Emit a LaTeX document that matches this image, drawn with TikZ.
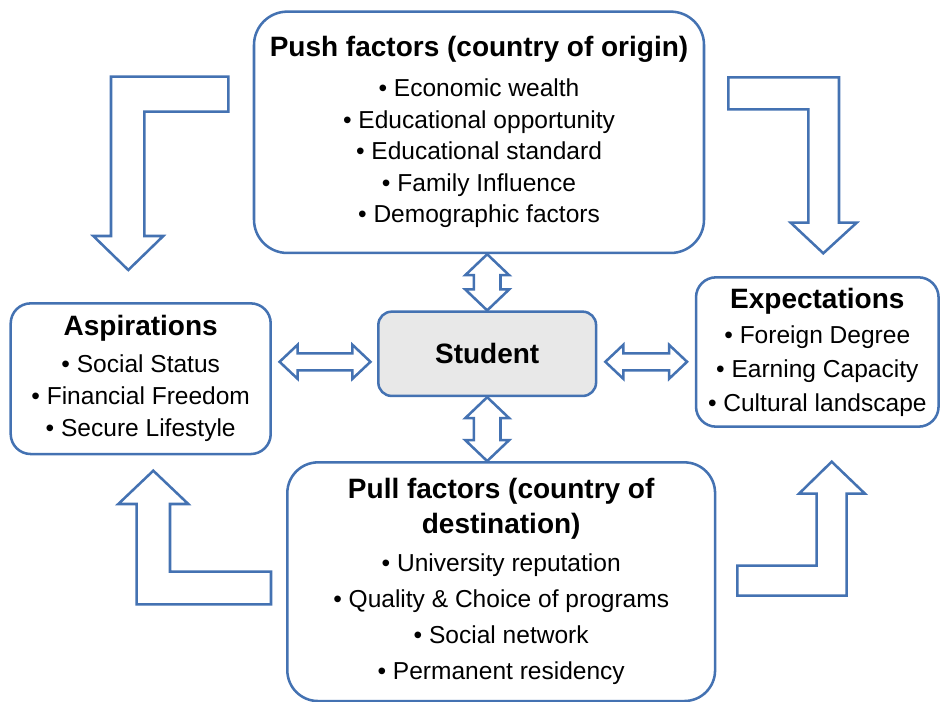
\documentclass[tikz,border=0pt]{standalone}
\usepackage{fontspec}
\setmainfont{Liberation Sans}
\usetikzlibrary{calc}

\definecolor{boxblue}{RGB}{68,114,178}
\definecolor{studgray}{RGB}{232,232,232}

\newcommand{\bodyfont}{\fontsize{18.4}{23.6}\selectfont}
\newcommand{\boxtitle}[1]{{\fontsize{21}{25}\selectfont\bfseries #1}}

% two-headed block arrow, #1 = top tip, #2 = bottom tip
\newcommand{\vdouble}[2]{%
\draw [blockarrow] (#1) -- ++(22,21) -- ++(-8.7,0) -- ($(#2)+(13.3,-21)$) -- ++(8.7,0) -- (#2) -- ++(-22,-21) -- ++(8.7,0) -- ($(#1)+(-13.3,21)$) -- ++(-8.7,0) -- cycle ;}
% two-headed block arrow, #1 = left tip, #2 = right tip
\newcommand{\hdouble}[2]{%
\draw [blockarrow] (#1) -- ++(18,-17) -- ++(0,8.5) -- ($(#2)+(-18,-8.5)$) -- ++(0,-8.5) -- (#2) -- ++(-18,17) -- ++(0,-8.5) -- ($(#1)+(18,8.5)$) -- ++(0,8.5) -- cycle ;}

\begin{document}
\begin{tikzpicture}[x=0.75pt,y=0.75pt,yscale=-1,xscale=1,
  roundbox/.style={draw=boxblue, line width=1.9pt, fill=white, align=center, inner sep=0pt, font=\bodyfont},
  blockarrow/.style={draw=boxblue, line width=1.9pt, fill=white, line join=miter}]
\path [use as bounding box] (0,0) rectangle (940,702);

%Shape: Bent Arrow (top left)
\draw [blockarrow] (111,76.7) -- (228.3,76.7) -- (228.3,111.7) -- (144.3,111.7) -- (144.3,236) -- (163.3,236) -- (128.3,270) -- (93.3,236) -- (111,236) -- cycle ;
%Shape: Bent Arrow (top right)
\draw [blockarrow] (728.3,77.3) -- (839,77.3) -- (839,222.7) -- (856.7,222.7) -- (823.3,253.3) -- (790.7,222.7) -- (808.3,222.7) -- (808.3,109.3) -- (728.3,109.3) -- cycle ;
%Shape: Bent Arrow (bottom left)
\draw [blockarrow] (153.3,470.7) -- (188.3,504) -- (170,504) -- (170,571.7) -- (271,571.7) -- (271,604.3) -- (136.7,604.3) -- (136.7,504) -- (118.3,504) -- cycle ;
%Shape: Bent Arrow (bottom right)
\draw [blockarrow] (831.7,461.7) -- (865,493.7) -- (846.7,493.7) -- (846.7,595.7) -- (737.3,595.7) -- (737.3,565.7) -- (816.7,565.7) -- (816.7,493.7) -- (799,493.7) -- cycle ;

%Shape: Rounded Rect (push factors)
\node [roundbox, rounded corners=25pt, minimum width=337.5pt, minimum height=181pt] (push) at (479,132.3)
  {\boxtitle{Push factors (country of origin)}\\[6.4pt]
   • Economic wealth\\ • Educational opportunity\\ • Educational standard\\ • Family Influence\\ • Demographic factors};
%Shape: Rounded Rect (aspirations)
\node [roundbox, rounded corners=15pt, minimum width=195pt, minimum height=113pt] (asp) at (140.7,378.7)
  {\boxtitle{Aspirations}\\[4.1pt]
   • Social Status\\[0.4pt] • Financial Freedom\\[0.4pt] • Secure Lifestyle};
%Shape: Rounded Rect (student)
\node [roundbox, rounded corners=10pt, fill=studgray, minimum width=163.3pt, minimum height=63.2pt] (student) at (487.2,353.8)
  {\boxtitle{Student}};
%Shape: Rounded Rect (expectations)
\node [roundbox, rounded corners=15pt, minimum width=181.9pt, minimum height=112pt] (exp) at (817.3,352)
  {\boxtitle{Expectations}\\[2.6pt]
   • Foreign Degree\\[1.9pt] • Earning Capacity\\[1.9pt] • Cultural landscape};
%Shape: Rounded Rect (pull factors)
\node [roundbox, rounded corners=23pt, minimum width=320.8pt, minimum height=179pt] (pull) at (501.2,581.7)
  {\boxtitle{Pull factors (country of}\\[2.6pt] \boxtitle{destination)}\\[4.9pt]
   • University reputation\\[3.4pt] • Quality \& Choice of programs\\[3.4pt] • Social network\\[3.4pt] • Permanent residency};

%Two-headed arrows round the student
\coordinate (mid) at ($(student.center)+(0,8)$);
\vdouble{push.south -| student.north}{student.north}
\vdouble{student.south}{pull.north -| student.south}
\hdouble{$(asp.east |- mid)+(7.6,0)$}{$(student.west |- mid)+(-6.6,0)$}
\hdouble{$(student.east |- mid)+(8,0)$}{$(exp.west |- mid)+(-7.7,0)$}

\end{tikzpicture}
\end{document}
